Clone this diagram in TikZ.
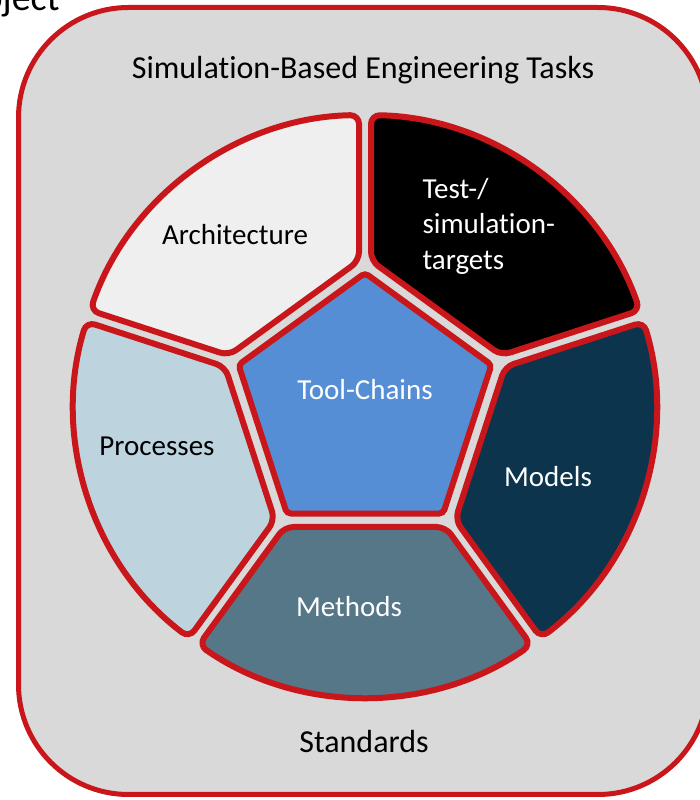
\documentclass[tikz,border=0pt]{standalone}
\usepackage{fontspec}
\setmainfont[Ligatures=NoCommon]{Carlito}
\usepackage{tikz}
\usetikzlibrary{calc}

\definecolor{wheelred}{RGB}{200,22,26}
\definecolor{panelgray}{RGB}{217,217,217}
\definecolor{archfill}{RGB}{239,239,239}
\definecolor{toolfill}{RGB}{85,142,213}
\definecolor{procfill}{RGB}{189,212,223}
\definecolor{modelfill}{RGB}{12,52,77}
\definecolor{methfill}{RGB}{85,119,136}

\begin{document}
\begin{tikzpicture}[
    x=1pt, y=1pt,
    seg/.style={draw=wheelred, line width=6pt, rounded corners=9pt, fill=#1},
    lbl/.style={font=\fontsize{29}{35.5}\selectfont, text=#1},
    big/.style={font=\fontsize{32}{38}\selectfont},
]
    \useasboundingbox (0,0) rectangle (700,800);

    % outer panel
    \draw[draw=wheelred, fill=panelgray, line width=5pt, rounded corners=110pt] (18.5,5.5) rectangle (708,792.5);
    \node[font=\fontsize{38}{44}\selectfont, anchor=base east] (project) at (63,789) {Project};

    % wheel segments
    \foreach \ang/\col in {126/archfill, 54/black, -18/modelfill, 270/methfill, 198/procfill}{
        \begin{scope}[shift={(365,394)}, rotate=\ang]
            \draw[seg=\col] (121,-80.5) -- (238.9,-166.2) arc[start angle=-34.82, end angle=34.82, radius=291] -- (121,80.5) -- cycle;
        \end{scope}
    }

    % centre pentagon
    \draw[seg=toolfill, rounded corners=4pt] (365,394) ++(90:133) -- ++(-36:156.3) -- ++(-108:156.3) -- ++(180:156.3) -- ++(108:156.3) -- cycle;

    \node[big] (tasks) at (363,730) {Simulation-Based Engineering Tasks};
    \node[big] (standards) at (364,58) {Standards};

    \node[lbl=black] (arch) at (235,565) {Architecture};
    \node[lbl=white, align=left, anchor=west] (targets) at (419,574) {Test-/\\simulation-\\targets};
    \node[lbl=white] (tools) at (365,410) {Tool-Chains};
    \node[lbl=black] (proc) at (157,354) {Processes};
    \node[lbl=white] (models) at (548,323) {Models};
    \node[lbl=white] (methods) at (349,193) {Methods};
\end{tikzpicture}
\end{document}
